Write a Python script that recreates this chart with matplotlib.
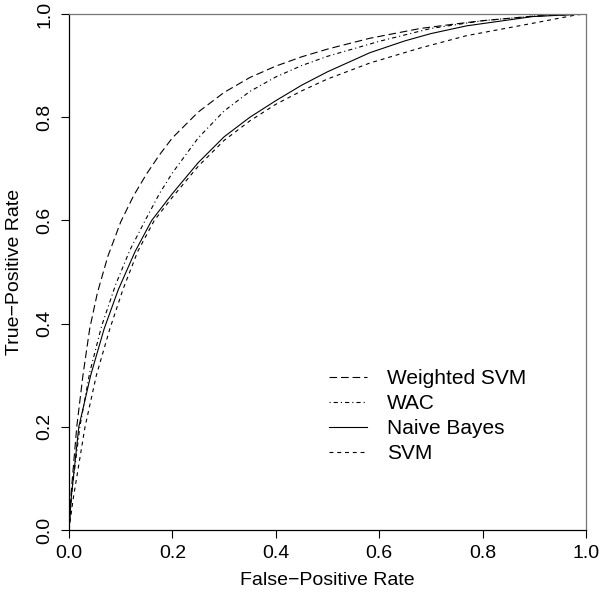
import numpy as np
import matplotlib
matplotlib.use("Agg")
from matplotlib import pyplot as plt

plt.rcParams['font.family'] = ['Liberation Sans', 'DejaVu Sans']
plt.rcParams['lines.scale_dashes'] = False

# ROC curves (false-positive rate, true-positive rate)
wsvm_fpr = [0.0, 0.004, 0.015, 0.027, 0.04, 0.055, 0.075, 0.1, 0.125, 0.15, 0.175, 0.2, 0.25, 0.3, 0.35, 0.4, 0.45, 0.5, 0.582, 0.68, 0.75, 0.8, 0.9, 1.0]
wsvm_tpr = [0.0, 0.07, 0.2, 0.3, 0.39, 0.46, 0.53, 0.597, 0.648, 0.69, 0.727, 0.76, 0.81, 0.848, 0.877, 0.899, 0.917, 0.932, 0.953, 0.972, 0.981, 0.987, 0.996, 1.0]

wac_fpr = [0.0, 0.005, 0.021, 0.04, 0.063, 0.09, 0.118, 0.15, 0.175, 0.2, 0.25, 0.3, 0.35, 0.4, 0.45, 0.5, 0.6, 0.7, 0.8, 0.9, 1.0]
wac_tpr = [0.0, 0.07, 0.2, 0.305, 0.395, 0.475, 0.543, 0.605, 0.652, 0.692, 0.76, 0.812, 0.85, 0.878, 0.9, 0.918, 0.947, 0.972, 0.987, 0.996, 1.0]

nb_fpr = [0.0, 0.005, 0.019, 0.042, 0.068, 0.095, 0.128, 0.16, 0.2, 0.25, 0.3, 0.35, 0.4, 0.45, 0.5, 0.582, 0.65, 0.7, 0.769, 0.897, 1.0]
nb_tpr = [0.0, 0.07, 0.2, 0.3, 0.39, 0.465, 0.54, 0.6, 0.652, 0.712, 0.762, 0.8, 0.832, 0.862, 0.888, 0.925, 0.948, 0.962, 0.977, 0.995, 1.0]

svm_fpr = [0.0, 0.008, 0.031, 0.053, 0.079, 0.105, 0.133, 0.165, 0.2, 0.25, 0.3, 0.35, 0.4, 0.45, 0.5, 0.582, 0.679, 0.769, 0.897, 0.98, 1.0]
svm_tpr = [0.0, 0.06, 0.2, 0.3, 0.39, 0.468, 0.54, 0.6, 0.645, 0.705, 0.755, 0.793, 0.825, 0.851, 0.874, 0.905, 0.934, 0.958, 0.982, 0.998, 1.0]

labels = ['Weighted SVM', 'WAC', 'Naive Bayes', 'SVM']
ticks = [0.0, 0.2, 0.4, 0.6, 0.8, 1.0]

fig = plt.figure(figsize=(6, 5.95), dpi=100)
ax = fig.add_axes([0.115, 0.1092, 0.8617, 0.8673])

lw = 0.8
ax.plot(wsvm_fpr, wsvm_tpr, color='black', lw=lw, linestyle=(0, (5.5, 2.8)), label=labels[0])
ax.plot(wac_fpr, wac_tpr, color='black', lw=lw, linestyle=(0, (0.8, 2.2, 3.0, 2.2)), label=labels[1])
ax.plot(nb_fpr, nb_tpr, color='black', lw=lw, linestyle='-', label=labels[2])
ax.plot(svm_fpr, svm_tpr, color='black', lw=lw, linestyle=(0, (2.8, 2.8)), label=labels[3])

ax.set_xlim(0, 1)
ax.set_ylim(0, 1)
ax.set_xticks(ticks)
ax.set_yticks(ticks)
ax.set_xticklabels(['%.1f' % t for t in ticks], fontsize=14)
ax.set_yticklabels(['%.1f' % t for t in ticks], fontsize=14, rotation=90, va='center')
ax.tick_params(direction='out', length=6, width=0.8, pad=5)

for s in ['left', 'bottom']:
    ax.spines[s].set_linewidth(0.9)
    ax.spines[s].set_color('black')
for s in ['top', 'right']:
    ax.spines[s].set_linewidth(0.9)
    ax.spines[s].set_color('#777777')

ax.set_xlabel('False\u2212Positive Rate', fontsize=14, labelpad=7)
ax.set_ylabel('True\u2212Positive Rate', fontsize=14, labelpad=10)

leg = ax.legend(loc='upper left', bbox_to_anchor=(329 / 600, (595 - 369) / 595),
                bbox_transform=fig.transFigure, frameon=False, fontsize=15,
                handlelength=1.83, handletextpad=0.95, labelspacing=0.29,
                borderpad=0, borderaxespad=0)

fig.savefig('out.png', dpi=100)
